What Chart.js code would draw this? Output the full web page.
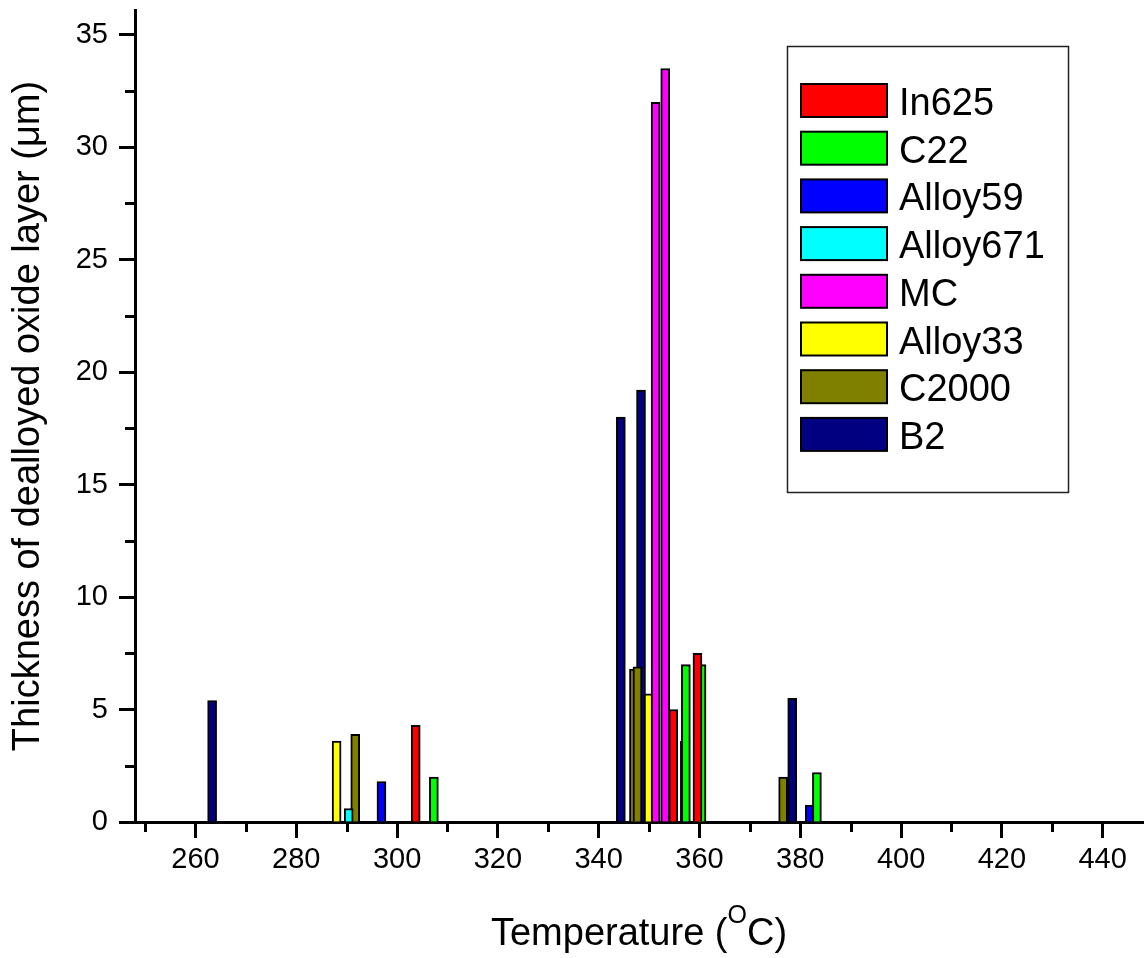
<!DOCTYPE html>
<html>
<head>
<meta charset="utf-8">
<title>Dealloyed oxide layer thickness</title>
<script src="https://cdn.jsdelivr.net/npm/chart.js@4/dist/chart.umd.min.js"></script>
<style>
  html, body { margin: 0; padding: 0; background: #fff; }
  canvas { display: block; }
</style>
</head>
<body>
<canvas id="chart" width="1146" height="958"></canvas>
<script>
// thickness of dealloyed oxide layer (um) per alloy, at each test temperature (C)
var in625Temp = [303.7, 354.8, 359.6];
var in625Thick = [4.3, 5.0, 7.5];
var c22Temp = [307.3, 357.3, 360.4, 383.3];
var c22Thick = [2.0, 7.0, 7.0, 2.2];
var alloy59Temp = [296.9, 357.1, 381.9];
var alloy59Thick = [1.8, 3.6, 0.75];
var alloy671Temp = [290.4];
var alloy671Thick = [0.6];
var mcTemp = [351.3, 353.2];
var mcThick = [32.0, 33.5];
var alloy33Temp = [288.0, 349.9];
var alloy33Thick = [3.6, 5.7];
var c2000Temp = [291.7, 347.0, 347.7, 349.9, 376.6];
var c2000Thick = [3.9, 6.8, 6.9, 5.0, 2.0];
var b2Temp = [263.3, 344.4, 348.4, 378.4];
var b2Thick = [5.4, 18.0, 19.2, 5.5];

var seriesNames = ["In625", "C22", "Alloy59", "Alloy671", "MC", "Alloy33", "C2000", "B2"];
var seriesColors = ["#ff0000", "#00ff00", "#0000ff", "#00ffff", "#ff00ff", "#ffff00", "#808000", "#000080"];
var seriesTemps = [in625Temp, c22Temp, alloy59Temp, alloy671Temp, mcTemp, alloy33Temp, c2000Temp, b2Temp];
var seriesThick = [in625Thick, c22Thick, alloy59Thick, alloy671Thick, mcThick, alloy33Thick, c2000Thick, b2Thick];

var xTickValues = [260, 280, 300, 320, 340, 360, 380, 400, 420, 440];
var xMinorValues = [250, 270, 290, 310, 330, 350, 370, 390, 410, 430];
var yTickValues = [0, 5, 10, 15, 20, 25, 30, 35];
var yMinorValues = [2.5, 7.5, 12.5, 17.5, 22.5, 27.5, 32.5];

var FONT = "'Liberation Sans', Arial, Helvetica, sans-serif";

var datasets = seriesNames.map(function (name, i) {
  return {
    label: name,
    data: seriesTemps[i].map(function (t, k) {
      return { x: t, y: seriesThick[i][k] };
    }),
    backgroundColor: seriesColors[i],
    borderColor: "#000",
    borderWidth: 2,
    borderSkipped: "start",
    barThickness: 9,
    grouped: false,
  };
});

// minor ticks, x title with superscript and the boxed legend
var extrasPlugin = {
  id: "extras",
  afterDraw: function (chart) {
    var ctx = chart.ctx;
    var xs = chart.scales.x;
    var ys = chart.scales.y;
    var area = chart.chartArea;
    ctx.save();

    ctx.strokeStyle = "#000";
    ctx.lineWidth = 3;
    ctx.beginPath();
    xMinorValues.forEach(function (v) {
      var px = Math.round(xs.getPixelForValue(v)) + 0.5;
      ctx.moveTo(px, area.bottom);
      ctx.lineTo(px, area.bottom + 10);
    });
    yMinorValues.forEach(function (v) {
      var py = Math.round(ys.getPixelForValue(v)) + 0.5;
      ctx.moveTo(area.left, py);
      ctx.lineTo(area.left - 10, py);
    });
    ctx.stroke();

    // Temperature (°C) with a raised O
    var big = "38px " + FONT;
    var small = "25px " + FONT;
    var part1 = "Temperature (";
    var part2 = "O";
    var part3 = "C)";
    ctx.fillStyle = "#000";
    ctx.textBaseline = "alphabetic";
    ctx.textAlign = "left";
    ctx.font = big;
    var w1 = ctx.measureText(part1).width;
    var w3 = ctx.measureText(part3).width;
    ctx.font = small;
    var w2 = ctx.measureText(part2).width;
    var cx = (area.left + area.right) / 2;
    var x0 = cx - (w1 + w2 + w3) / 2;
    var base = 945;
    ctx.font = big;
    ctx.fillText(part1, x0, base);
    ctx.font = small;
    ctx.fillText(part2, x0 + w1, base - 22);
    ctx.font = big;
    ctx.fillText(part3, x0 + w1 + w2, base);

    // legend
    var bx = 787, by = 46, bw = 281, bh = 446;
    ctx.lineWidth = 1.5;
    ctx.strokeStyle = "#222";
    ctx.strokeRect(bx + 0.5, by + 0.5, bw, bh);
    ctx.font = "38px " + FONT;
    chart.data.datasets.forEach(function (ds, i) {
      var top = 84 + i * 47.7;
      ctx.fillStyle = ds.backgroundColor;
      ctx.fillRect(801, top, 86, 33);
      ctx.strokeStyle = "#000";
      ctx.lineWidth = 2;
      ctx.strokeRect(801, top, 86, 33);
      ctx.fillStyle = "#000";
      ctx.fillText(ds.label, 899, top + 31);
    });

    ctx.restore();
  },
};

new Chart(document.getElementById("chart"), {
  type: "bar",
  data: { datasets: datasets },
  plugins: [extrasPlugin],
  options: {
    responsive: false,
    animation: false,
    devicePixelRatio: 1,
    layout: { padding: { top: 10, right: 3, left: 0, bottom: 0 } },
    plugins: {
      legend: { display: false },
      tooltip: { enabled: false },
    },
    scales: {
      x: {
        type: "linear",
        min: 248,
        max: 448,
        offset: false,
        afterFit: function (scale) {
          scale.height = 136;
          scale.paddingLeft = 0;
          scale.paddingRight = 0;
        },
        afterBuildTicks: function (scale) {
          scale.ticks = xTickValues.map(function (v) {
            return { value: v };
          });
        },
        border: { color: "#000", width: 3 },
        grid: {
          offset: false,
          drawOnChartArea: false,
          tickLength: 16,
          tickWidth: 3,
          tickColor: "#000",
        },
        ticks: {
          color: "#000",
          padding: 5,
          maxRotation: 0,
          autoSkip: false,
          font: { family: FONT, size: 29 },
        },
      },
      y: {
        type: "linear",
        min: 0,
        max: 36.1,
        afterFit: function (scale) {
          scale.width = 135;
          scale.paddingTop = 0;
          scale.paddingBottom = 0;
        },
        afterBuildTicks: function (scale) {
          scale.ticks = yTickValues.map(function (v) {
            return { value: v };
          });
        },
        border: { color: "#000", width: 3 },
        grid: {
          drawOnChartArea: false,
          tickLength: 16,
          tickWidth: 3,
          tickColor: "#000",
        },
        ticks: {
          color: "#000",
          padding: 11,
          autoSkip: false,
          font: { family: FONT, size: 29 },
        },
        title: {
          display: true,
          text: "Thickness of dealloyed oxide layer (\u03bcm)",
          color: "#000",
          padding: { top: 6, bottom: 0 },
          font: { family: FONT, size: 38 },
        },
      },
    },
  },
});
</script>
</body>
</html>
